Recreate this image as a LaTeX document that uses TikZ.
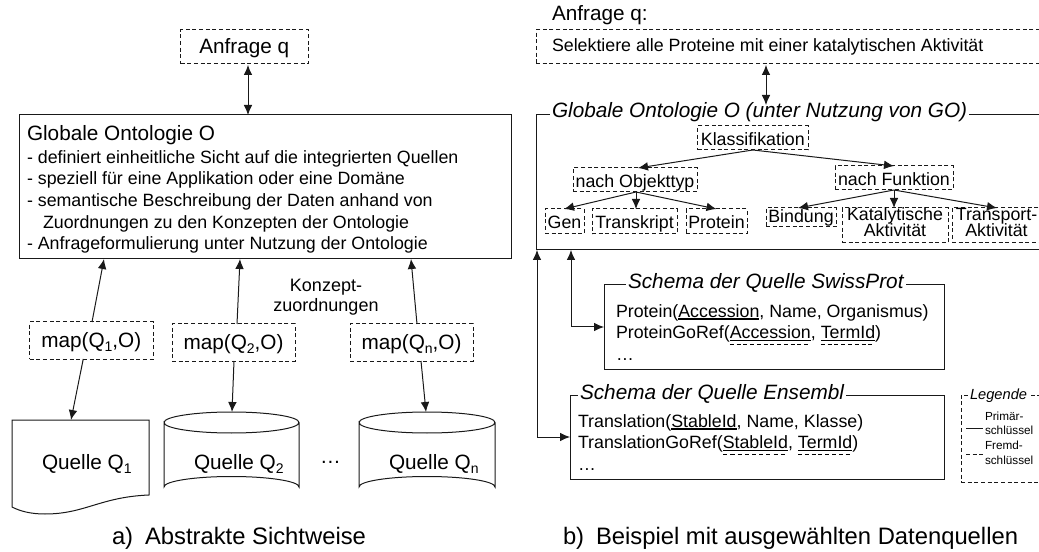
\documentclass[tikz,border=0pt]{standalone}
\usepackage{fontspec}
\setmainfont{Liberation Sans}
\usetikzlibrary{arrows.meta}
\newcommand\fs[2]{\fontsize{#1}{#2}\selectfont}
\newcommand\pk[1]{\setbox0\hbox{#1}\rlap{\rule[-1.7pt]{\wd0}{0.9pt}}#1}
\newcommand\fk[1]{\setbox0\hbox{#1}\rlap{\rule[-1.7pt]{\wd0}{0.9pt}}\rlap{\raisebox{-5pt}{\hbox to \wd0{\xleaders\hbox{\rule{3pt}{0.75pt}\hskip 2pt}\hfill}}}#1}
\newcommand\sbs[1]{\raisebox{-0.22em}{\fs{10.5}{12}#1}}
\tikzset{
  xs/.style={xshift=#1*0.75pt},
  ys/.style={yshift=-#1*0.75pt},
  spanbox/.style args={#1,#2,#3,#4}{minimum width={(#3-#1)*0.75pt},minimum height={(#4-#2)*0.75pt},at={({(#1+#3)/2},{(#2+#4)/2})}},
  lc/.style={draw=black!90,line width=0.75pt},
  solidbox/.style={lc,inner sep=0pt,outer sep=0pt},
  dbox/.style={lc,dash pattern=on 3pt off 2pt,inner sep=0pt,outer sep=0pt,align=center},
  big/.style={font=\fs{15.56}{18},text height=11.3pt,text depth=1pt},
  mid/.style={font=\fs{13.35}{12.5},text height=11.5pt,text depth=0.5pt},
  midtwo/.style={font=\fs{13.35}{12.5},text height=21pt,text depth=3.9pt},
  txt/.style={inner sep=0pt,outer sep=0pt,anchor=base west,align=left},
  conn/.style={draw=black!90,line width=0.75pt,-{Latex[length=7.5pt,width=6.5pt]}},
  biconn/.style={draw=black!90,line width=0.75pt,{Latex[length=7.5pt,width=6.5pt]}-{Latex[length=7.5pt,width=6.5pt]}},
  title/.style={txt,fill=white,inner xsep=1.5pt,inner ysep=1pt,font=\fs{15.56}{18}\itshape},
}
\begin{document}
\begin{tikzpicture}[x=0.75pt,y=-0.75pt]
\useasboundingbox (0,0) rectangle (1039,552);
% ---- left part
\node[dbox,big,spanbox={180.5,30,308,64}] (qa) {Anfrage q};
\node[solidbox,spanbox={19.5,115,511,259}] (oa) {};
\node[txt,font=\fs{15.56}{18}] (oatitle) at (27,141) {Globale Ontologie O};
\node[txt,font=\fs{13.35}{16.3}] (oalist) at (27,250) {- definiert einheitliche Sicht auf die integrierten Quellen\\- speziell für eine Applikation oder eine Domäne\\- semantische Beschreibung der Daten anhand von\\\hspace*{12pt}Zuordnungen zu den Konzepten der Ontologie\\- Anfrageformulierung unter Nutzung der Ontologie};
\draw[biconn] ([xs=3.75,ys=1]qa.south) -- ([xs=-17.25]oa.north);
\node[dbox,big,spanbox={29.5,322,153,359}] (m1) {map(Q\sbs{1},O)};
\node[dbox,big,spanbox={172,324,295,361}] (m2) {map(Q\sbs{2},O)};
\node[dbox,big,spanbox={350,324,473,361}] (mn) {map(Q\sbs{n},O)};
\draw[conn] ([xs=0.75]m1.north) -- ([xs=-161.25]oa.south);
\draw[conn] ([xs=3.5]m2.north) -- ([xs=-25.25]oa.south);
\draw[conn] ([xs=5.5]mn.north) -- ([xs=145.75]oa.south);
\node[inner sep=0pt,align=center,font=\fs{13.5}{15.2}] (konz) at (326,297.5) {Konzept-\\zuordnungen};
% document symbol
\draw[solidbox] (12,420) coordinate (docl) -- (149,420) -- (149,495) .. controls (100,497) and (85,514) .. (45,514) .. controls (30,514) and (20,511) .. (12,507) -- cycle;
\coordinate (doctop) at (71,420);
\node[txt,font=\fs{15.56}{18}] (q1) at (42,469) {Quelle Q\sbs{1}};
% cylinders
\draw[solidbox] (164,422.5) coordinate (c2) arc[start angle=180,end angle=360,x radius=67.5,y radius=10.5] arc[start angle=0,end angle=180,x radius=67.5,y radius=10.5] -- (164,487) arc[start angle=180,end angle=360,x radius=67.5,y radius=10.5] -- (299,422.5);
\coordinate (c2top) at (232,412);
\node[txt,font=\fs{15.56}{18}] (q2) at (194,469) {Quelle Q\sbs{2}};
\draw[solidbox] (359,422.5) coordinate (cn) arc[start angle=180,end angle=360,x radius=68,y radius=10.5] arc[start angle=0,end angle=180,x radius=68,y radius=10.5] -- (359,487) arc[start angle=180,end angle=360,x radius=68,y radius=10.5] -- (495,422.5);
\coordinate (cntop) at (426,412);
\node[txt,font=\fs{15.56}{18}] (qn) at (389,469) {Quelle Q\sbs{n}};
\node[txt,font=\fs{15.56}{18}] (dots) at (320,463) {…};
\draw[conn] ([xs=-8]m1.south) -- (doctop);
\draw[conn] ([xs=0.5]m2.south) -- (c2top);
\draw[conn] ([xs=9.5]mn.south) -- (cntop);
\node[txt,font=\fs{17.85}{20}] (capa) at (112,544) {a)\hspace{0.5em}Abstrakte Sichtweise};
% ---- right part
\node[txt,font=\fs{15.56}{18}] (anfr) at (552,21) {Anfrage q:};
\node[dbox,spanbox={536,30,1041,64}] (sel) {};
\node[txt,font=\fs{13.35}{16}] (seltxt) at (552,52) {Selektiere alle Proteine mit einer katalytischen Aktivität};
\node[solidbox,spanbox={536,115,1041,250}] (go) {};
\node[title] (gotitle) at (550,118) {Globale Ontologie O (unter Nutzung von GO)};
\draw[biconn] ([xs=-22.5,ys=1]sel.south) -- ([xs=-22.5,ys=-10]go.north);
\node[dbox,mid,spanbox={697.7,126,808,150}] (kl) {Klassifikation};
\node[dbox,mid,spanbox={573,168,697,192}] (obj) {nach Objekttyp};
\node[dbox,mid,spanbox={835,166,953,190}] (fun) {nach Funktion};
\node[dbox,mid,spanbox={545,209,584,234}] (gen) {Gen};
\node[dbox,mid,spanbox={592,209,677,234}] (tra) {Transkript};
\node[dbox,mid,spanbox={686,209,747,234}] (pro) {Protein};
\node[dbox,mid,text height=10pt,text depth=2.2pt,spanbox={766,208,836,227}] (bin) {Bindung};
\node[dbox,midtwo,spanbox={842,208,948,243}] (kat) {Katalytische\\Aktivität};
\node[dbox,midtwo,spanbox={952,208,1041,243}] (trn) {Transport-\\Aktivität};
\draw[conn] (kl.south) -- ([xs=3]obj.north);
\draw[conn] (kl.south) -- (fun.north);
\draw[conn] ([xs=1]obj.south) -- ([xs=-0.5]gen.north);
\draw[conn] ([xs=1]obj.south) -- ([xs=1.5]tra.north);
\draw[conn] ([xs=1]obj.south) -- (pro.north);
\draw[conn] (fun.south) -- ([xs=-3]bin.north);
\draw[conn] (fun.south) -- ([xs=-1]kat.north);
\draw[conn] (fun.south) -- ([xs=0.5]trn.north);
% schema boxes
\node[solidbox,spanbox={604,285,944,369}] (sw) {};
\node[title] (swt) at (626,289) {Schema der Quelle SwissProt};
\node[txt,font=\fs{13.35}{16}] (swl) at (616,360) {Protein(\pk{Accession}, Name, Organismus)\\ProteinGoRef(\fk{Accession}, \fk{TermId})\\…};
\node[solidbox,spanbox={570,395,944,479}] (en) {};
\node[title] (ent) at (578,399) {Schema der Quelle Ensembl};
\node[txt,font=\fs{13.35}{16}] (enl) at (578,470) {Translation(\pk{StableId}, Name, Klasse)\\TranslationGoRef(\fk{StableId}, \fk{TermId})\\…};
\draw[biconn] (en.west) -| ([xs=-251.5]go.south);
\draw[biconn] (sw.west) -| ([xs=-217.5]go.south);
% legend
\node[dbox,spanbox={961,395,1041,482}] (leg) {};
\node[title,font=\fs{11}{13}\itshape] (legt) at (968,399) {Legende};
\node[txt,font=\fs{8.8}{11}] (legl) at (985,464) {Primär-\\schlüssel\\Fremd-\\schlüssel};
\coordinate (p1) at (966,428); \coordinate (p2) at (983,428);
\coordinate (f1) at (966,454); \coordinate (f2) at (983,454);
\draw[lc] (p1) -- (p2);
\draw[lc,dash pattern=on 3pt off 2pt] (f1) -- (f2);
\node[txt,font=\fs{17.85}{20}] (capb) at (563,544) {b)\hspace{0.5em}Beispiel mit ausgewählten Datenquellen};
\end{tikzpicture}
\end{document}
